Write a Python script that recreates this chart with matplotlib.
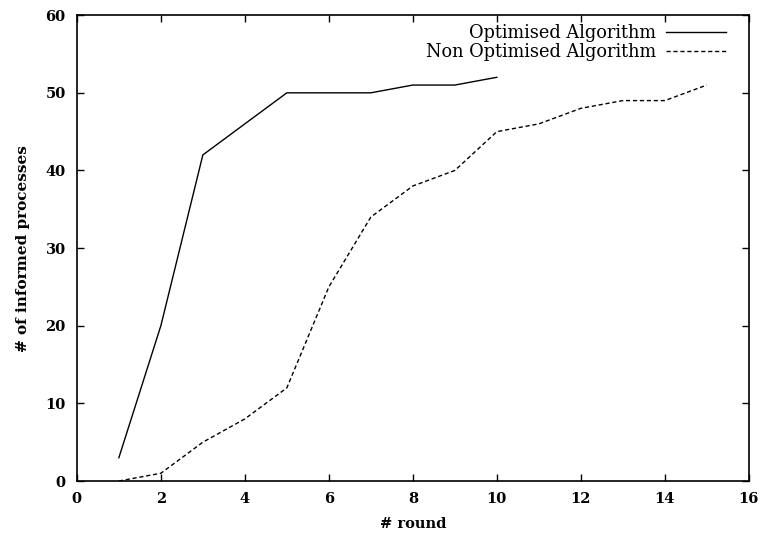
import matplotlib
matplotlib.use('Agg')
import matplotlib.pyplot as plt

# rounds vs number of informed processes
rounds_opt = [1, 2, 3, 4, 5, 6, 7, 8, 9, 10]
informed_opt = [3, 20, 42, 46, 50, 50, 50, 51, 51, 52]

rounds_nonopt = [1, 2, 3, 4, 5, 6, 7, 8, 9, 10, 11, 12, 13, 14, 15]
informed_nonopt = [0, 1, 5, 8, 12, 25, 34, 38, 40, 45, 46, 48, 49, 49, 51]

x_ticks = [0, 2, 4, 6, 8, 10, 12, 14, 16]
y_ticks = [0, 10, 20, 30, 40, 50, 60]

plt.rcParams['font.family'] = ['DejaVu Serif']

fig = plt.figure(figsize=(7.61, 5.42), dpi=100)
ax = fig.add_axes([0.101, 0.1125, 0.883, 0.8595])

ax.plot(rounds_opt, informed_opt, color='black', lw=1.0,
        label='Optimised Algorithm')
ax.plot(rounds_nonopt, informed_nonopt, color='black', lw=1.0,
        linestyle=(0, (3, 2)), label='Non Optimised Algorithm')

ax.set_xlim(0, 16)
ax.set_ylim(0, 60)
ax.set_xticks(x_ticks)
ax.set_yticks(y_ticks)
ax.tick_params(direction='in', length=5, width=1, top=True, right=True,
               labelsize=10.5, pad=8)
for lab in ax.get_xticklabels() + ax.get_yticklabels():
    lab.set_fontweight('bold')
for sp in ax.spines.values():
    sp.set_linewidth(1.2)

ax.set_xlabel('# round', fontsize=10.5, fontweight='bold', labelpad=8)
ax.set_ylabel('# of informed processes', fontsize=11, fontweight='bold',
              labelpad=11)

ax.legend(loc='upper right', frameon=False, markerfirst=False, fontsize=12.8,
          handlelength=3.4, handletextpad=0.55, labelspacing=0.08,
          borderaxespad=0.1, bbox_to_anchor=(0.98, 1.0))

fig.savefig('out.png', dpi=100)
